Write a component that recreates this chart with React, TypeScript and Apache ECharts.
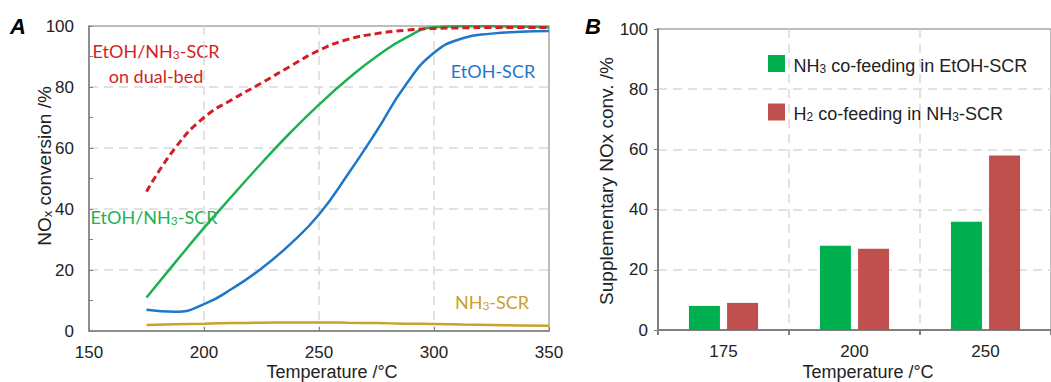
import React, { useEffect, useRef } from "react";
import * as echarts from "echarts";

// ---- Panel A data (temperature in °C, NOx conversion in %) ----
const tempsA = [175, 187.5, 200, 212.5, 225, 237.5, 250, 262.5, 275, 287.5, 300, 312.5, 325, 337.5, 350];
const dualBed = [45.7, 60, 70, 76, 81.3, 86.8, 92, 95.6, 97.5, 98.6, 99.2, 99.4, 99.5, 99.5, 99.5];
const etohNh3 = [11, 22.5, 33.8, 44.5, 55, 65, 74.2, 82.6, 90, 96, 99.6, 99.9, 99.9, 99.8, 99.6];
const etohScr = [7, 6.3, 8.8, 14, 20.5, 28.5, 38.2, 51.3, 65.5, 80.5, 91.2, 96, 97.5, 98.1, 98.4];
const nh3Scr = [2, 2.2, 2.4, 2.6, 2.7, 2.8, 2.8, 2.7, 2.6, 2.4, 2.3, 2.1, 2.0, 1.8, 1.7];

// ---- Panel B data ----
const catsB = ["175", "200", "250"];
const nh3CoFeed = [8, 28, 36];
const h2CoFeed = [9, 27, 58];
const legendNames = ["NH3 co-feeding in EtOH-SCR", "H2 co-feeding in NH3-SCR"];

const ARIAL = "'Liberation Sans', Arial, sans-serif";
const CAL = "Lato, 'Open Sans', sans-serif";
const AXIS_GRAY = "#7f7f7f";
const GRID_GRAY = "#d9d9d9";
const TXT = "#222";
const RED = "#d21f26";
const GREEN = "#1db24f";
const BLUE = "#1f77c9";
const GOLD = "#c9a227";

const pairs = (xs: number[], ys: number[]) => xs.map((x, i) => [x, ys[i]]);

export default function App() {
  const ref = useRef<HTMLDivElement>(null);
  useEffect(() => {
    if (!ref.current) return;
    const chart = echarts.init(ref.current, null, { renderer: "svg" });

    const splitLine = {
      show: true,
      showMinLine: false,
      showMaxLine: false,
      lineStyle: { color: GRID_GRAY, type: [9, 6], width: 1.5 },
    };
    const axisLabel = { fontSize: 17, color: TXT, fontFamily: ARIAL, margin: 13 };

    const richBase = (size: number, color: string, fam: string) => {
      const sub = Math.round(size * 0.66);
      return {
        a: { fontSize: size, color, fill: color, fontFamily: fam, lineHeight: size + 4, verticalAlign: "bottom" },
        s: { fontSize: sub, color, fill: color, fontFamily: fam, lineHeight: sub - 4, verticalAlign: "bottom" },
      };
    };

    const label = (x: number, y: number, text: string, color: string, size = 18) => ({
      type: "text",
      x,
      y,
      style: {
        text,
        fill: color,
        rich: richBase(size, color, CAL),
        align: "center",
        verticalAlign: "middle",
      },
    });

    const lineSeries = (data: number[], color: string, width: number, type: any = "solid", z = 2) => ({
      type: "line",
      xAxisIndex: 0,
      yAxisIndex: 0,
      data: pairs(tempsA, data),
      smooth: true,
      showSymbol: false,
      z,
      lineStyle: { color, width, type },
    });

    const option: any = {
      animation: false,
      backgroundColor: "#fff",
      grid: [
        { left: 89, top: 26, width: 460, height: 305, show: true, borderColor: "#a6a6a6", borderWidth: 1.5 },
        { left: 658, top: 29, width: 405, height: 301, show: true, borderColor: "#a6a6a6", borderWidth: 1.5 },
      ],
      xAxis: [
        {
          type: "value",
          gridIndex: 0,
          min: 150,
          max: 350,
          interval: 50,
          axisLine: { show: true, lineStyle: { color: AXIS_GRAY, width: 1.5 } },
          axisTick: { show: true, inside: true, length: 4, lineStyle: { color: AXIS_GRAY } },
          axisLabel,
          splitLine,
        },
        {
          type: "category",
          gridIndex: 1,
          data: catsB,
          axisLine: { show: true, lineStyle: { color: AXIS_GRAY, width: 2 } },
          axisTick: { show: true, alignWithLabel: false, length: 5, lineStyle: { color: AXIS_GRAY, width: 2 } },
          axisLabel,
          splitLine,
        },
      ],
      yAxis: [
        {
          type: "value",
          gridIndex: 0,
          min: 0,
          max: 100,
          interval: 20,
          axisLine: { show: true, lineStyle: { color: AXIS_GRAY, width: 1.5 } },
          axisTick: { show: true, inside: true, length: 4, lineStyle: { color: AXIS_GRAY } },
          minorTick: { show: true, splitNumber: 2, length: 4, lineStyle: { color: AXIS_GRAY } },
          axisLabel: { ...axisLabel, margin: 15 },
          splitLine,
        },
        {
          type: "value",
          gridIndex: 1,
          min: 0,
          max: 100,
          interval: 20,
          axisLine: { show: true, lineStyle: { color: AXIS_GRAY, width: 2 } },
          axisTick: { show: true, length: 4, lineStyle: { color: AXIS_GRAY } },
          axisLabel: { ...axisLabel, margin: 10 },
          splitLine,
        },
      ],
      legend: {
        data: legendNames,
        orient: "vertical",
        left: 763,
        top: 50,
        itemWidth: 17,
        itemHeight: 17,
        itemGap: 29,
        icon: "rect",
        formatter: (name: string) =>
          name === legendNames[0]
            ? "{a|\u2009NH}{s|3}{a| co-feeding in EtOH-SCR}"
            : "{a|\u2009H}{s|2}{a| co-feeding in NH}{s|3}{a|-SCR}",
        textStyle: { rich: richBase(18, TXT, ARIAL) },
      },
      series: [
        lineSeries(nh3Scr, GOLD, 2.5),
        lineSeries(etohScr, BLUE, 2.5),
        lineSeries(etohNh3, GREEN, 2.5),
        lineSeries(dualBed, RED, 3, [7, 4], 3),
        {
          name: legendNames[0],
          type: "bar",
          xAxisIndex: 1,
          yAxisIndex: 1,
          data: nh3CoFeed,
          barWidth: 31,
          barGap: "23%",
          itemStyle: { color: "#00b050" },
        },
        {
          name: legendNames[1],
          type: "bar",
          xAxisIndex: 1,
          yAxisIndex: 1,
          data: h2CoFeed,
          barWidth: 31,
          itemStyle: { color: "#c0504d" },
        },
      ],
      graphic: [
        {
          type: "text",
          x: 18,
          y: 26,
          style: { text: "A", font: `italic bold 22px ${ARIAL}`, fill: "#000", align: "center", verticalAlign: "middle" },
        },
        {
          type: "text",
          x: 593,
          y: 26,
          style: { text: "B", font: `italic bold 22px ${ARIAL}`, fill: "#000", align: "center", verticalAlign: "middle" },
        },
        {
          type: "text",
          x: 332,
          y: 372,
          style: { text: "Temperature /°C", font: `18px ${ARIAL}`, fill: TXT, align: "center", verticalAlign: "middle" },
        },
        {
          type: "text",
          x: 868,
          y: 372,
          style: { text: "Temperature /°C", font: `18px ${ARIAL}`, fill: TXT, align: "center", verticalAlign: "middle" },
        },
        {
          type: "text",
          x: 42,
          y: 166,
          rotation: Math.PI / 2,
          style: {
            text: "{a|NO}{s|x}{a| conversion /%}",
            rich: richBase(19, TXT, ARIAL),
            align: "center",
            verticalAlign: "middle",
          },
        },
        {
          type: "text",
          x: 606,
          y: 181,
          rotation: Math.PI / 2,
          style: {
            text: "Supplementary NOx conv. /%",
            font: `19px ${ARIAL}`,
            fill: TXT,
            align: "center",
            verticalAlign: "middle",
          },
        },
        label(156, 49, "{a|EtOH/NH}{s|3}{a|-SCR}", RED),
        label(156, 74, "{a|on dual-bed}", RED),
        label(154, 215, "{a|EtOH/NH}{s|3}{a|-SCR}", GREEN),
        label(493, 69, "{a|EtOH-SCR}", BLUE),
        label(492, 300, "{a|NH}{s|3}{a|-SCR}", GOLD),
      ],
    };
    chart.setOption(option);
    return () => chart.dispose();
  }, []);
  return (
    <div
      ref={ref}
      style={{ position: "absolute", left: 0, top: 0, width: 1051, height: 382 }}
    />
  );
}
